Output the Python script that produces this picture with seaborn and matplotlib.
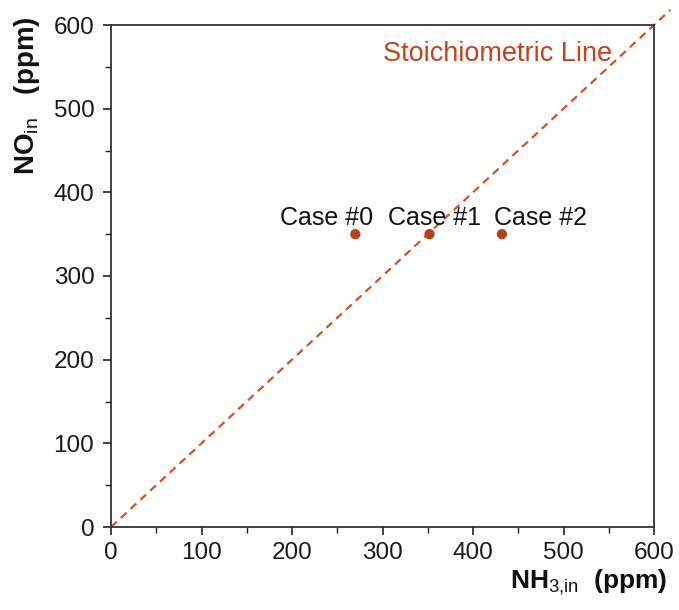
import matplotlib
matplotlib.use("Agg")
import matplotlib.pyplot as plt
import seaborn as sns
import pandas as pd
from matplotlib.ticker import MultipleLocator

# Data
case_labels = ["Case #0", "Case #1", "Case #2"]
nh3_in = [270, 352, 432]
no_in = [350, 350, 350]
stoich_x = [0, 618]
stoich_y = [0, 618]

sns.set_theme(style="ticks")
plt.rcParams["font.family"] = ["Liberation Sans", "DejaVu Sans"]
plt.rcParams["mathtext.fontset"] = "custom"
plt.rcParams["mathtext.rm"] = "Liberation Sans"
plt.rcParams["mathtext.bf"] = "Liberation Sans:bold"

fig = plt.figure(figsize=(6.79, 6.10), dpi=100)
ax = fig.add_axes([111/679, 1-527/610, 543/679, 502/610])

df_pts = pd.DataFrame({"NH3": nh3_in, "NO": no_in, "case": case_labels})
df_line = pd.DataFrame({"x": stoich_x, "y": stoich_y})

line_color = "#d6502a"
dot_color = "#b8401e"

sns.lineplot(data=df_line, x="x", y="y", ax=ax, color=line_color,
             linestyle=(0, (3.5, 2.5)), linewidth=1.6, clip_on=False)
sns.scatterplot(data=df_pts, x="NH3", y="NO", ax=ax, color=dot_color,
                s=55, edgecolor="none", zorder=5)

offsets = [-32, 5, 43]
for xv, yv, lab, off in zip(nh3_in, no_in, case_labels, offsets):
    ax.text(xv + off, yv + 11, lab, ha="center", va="baseline",
            fontsize=18, color="#111111")

ax.text(0.501, 0.929, "Stoichiometric Line", transform=ax.transAxes,
        ha="left", va="baseline", fontsize=19.5, color="#c8401c")

ax.set_xlim(0, 600)
ax.set_ylim(0, 600)
ax.xaxis.set_major_locator(MultipleLocator(100))
ax.yaxis.set_major_locator(MultipleLocator(100))
ax.xaxis.set_minor_locator(MultipleLocator(50))
ax.yaxis.set_minor_locator(MultipleLocator(50))
ax.tick_params(axis="both", which="major", direction="out", length=6,
               width=1.2, labelsize=17.5, color="#222222", labelcolor="#1a1a1a")
ax.tick_params(axis="x", which="major", pad=5)
ax.tick_params(axis="y", which="major", pad=6)
ax.tick_params(axis="both", which="minor", direction="out", length=4,
               width=1.0, color="#222222")
for sp in ax.spines.values():
    sp.set_visible(True)
    sp.set_linewidth(1.3)
    sp.set_color("#333333")

ax.set_xlabel("")
ax.set_ylabel("")
fig.text(667/679, 1-588/610, r"$\mathbf{NH}_{\mathrm{3{,}in}}$  $\mathbf{(ppm)}$",
         ha="right", va="baseline", fontsize=19, color="#111111")
fig.text(27/679, 1-96/610, r"$\mathbf{NO}_{\mathrm{in}}$   $\mathbf{(ppm)}$",
         ha="center", va="center", fontsize=20, rotation=90, color="#111111")

fig.savefig("out.png", dpi=100)
